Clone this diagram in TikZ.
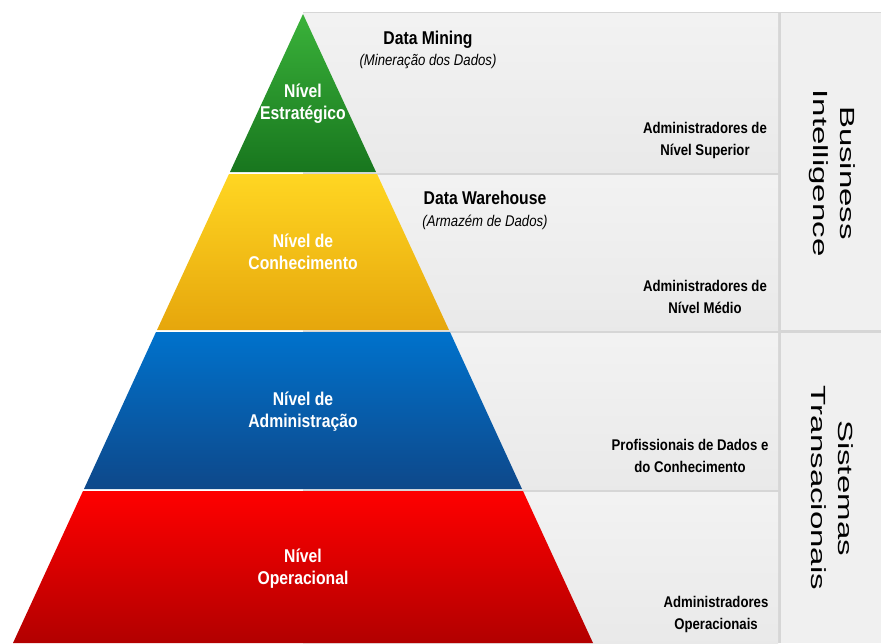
\documentclass[tikz,border=0pt]{standalone}
\usepackage{fontspec}
\setmainfont{Liberation Sans}
\newfontfamily\slim[FakeStretch=0.85]{Liberation Sans}
\definecolor{grnT}{RGB}{58,178,58}
\definecolor{grnB}{RGB}{24,118,30}
\definecolor{ylwT}{RGB}{255,214,34}
\definecolor{ylwB}{RGB}{230,166,12}
\definecolor{bluT}{RGB}{0,114,204}
\definecolor{bluB}{RGB}{14,72,138}
\definecolor{redT}{RGB}{255,0,0}
\definecolor{redB}{RGB}{178,0,0}
\tikzset{
  band/.style={top color=gray!10,bottom color=gray!17},
  lvl/.style={text=white,align=center,font=\slim\bfseries\fontsize{18.5}{22}\selectfont},
  who/.style={align=center,font=\slim\bfseries\fontsize{15.5}{22}\selectfont},
  tool/.style={font=\slim\bfseries\fontsize{18.5}{22}\selectfont},
  toolsub/.style={font=\slim\itshape\fontsize{15.5}{20}\selectfont},
  side/.style={rotate=-90,yscale=.62,transform shape,align=center,font=\fontsize{33}{44}\selectfont}
}
\begin{document}
\begin{tikzpicture}[x=1pt,y=-1pt]
\useasboundingbox (0,0) rectangle (881,643);
% gray rows behind the pyramid
\fill[gray!32] (303,12) rectangle (881,643);
\shade[band] (303,13) rectangle (778,172);
\shade[band] (303,175) rectangle (778,330);
\shade[band] (303,333) rectangle (778,489);
\shade[band] (303,492) rectangle (778,643);
\fill[gray!12] (781,13) rectangle (881,330);
\fill[gray!12] (781,333) rectangle (881,643);
% pyramid
\shade[top color=grnT,bottom color=grnB] (303,14) -- (376,172) -- (230,172) -- cycle;
\shade[top color=ylwT,bottom color=ylwB] (229,174) -- (377,174) -- (449,330) -- (157,330) -- cycle;
\shade[top color=bluT,bottom color=bluB] (156,332) -- (450,332) -- (522,489) -- (84,489) -- cycle;
\shade[top color=redT,bottom color=redB] (83,491) -- (523,491) -- (593,643) -- (13,643) -- cycle;
% levels
\node[lvl] (estr) at (303,104) {Nível\\Estratégico};
\node[lvl] (conh) at (303,252) {Nível de\\Conhecimento};
\node[lvl] (admn) at (303,412) {Nível de\\Administração};
\node[lvl] (oper) at (303,569) {Nível\\Operacional};
% tools
\node[tool] (dm) at (428,40) {Data Mining};
\node[toolsub] (dmsub) at (428,61) {(Mineração dos Dados)};
\node[tool] (dw) at (485,198) {Data Warehouse};
\node[toolsub] (dwsub) at (485,222) {(Armazém de Dados)};
% people
\node[who] (sup) at (705,140) {Administradores de\\Nível Superior};
\node[who] (med) at (705,297) {Administradores de\\Nível Médio};
\node[who] (prof) at (690,456) {Profissionais de Dados e\\do Conhecimento};
\node[who] (ops) at (716,614) {Administradores\\Operacionais};
% systems
\node[side] (bi) at (832,173) {Business\\Intelligence};
\node[side] (st) at (832,488) {Sistemas\\Transacionais};
\end{tikzpicture}
\end{document}
